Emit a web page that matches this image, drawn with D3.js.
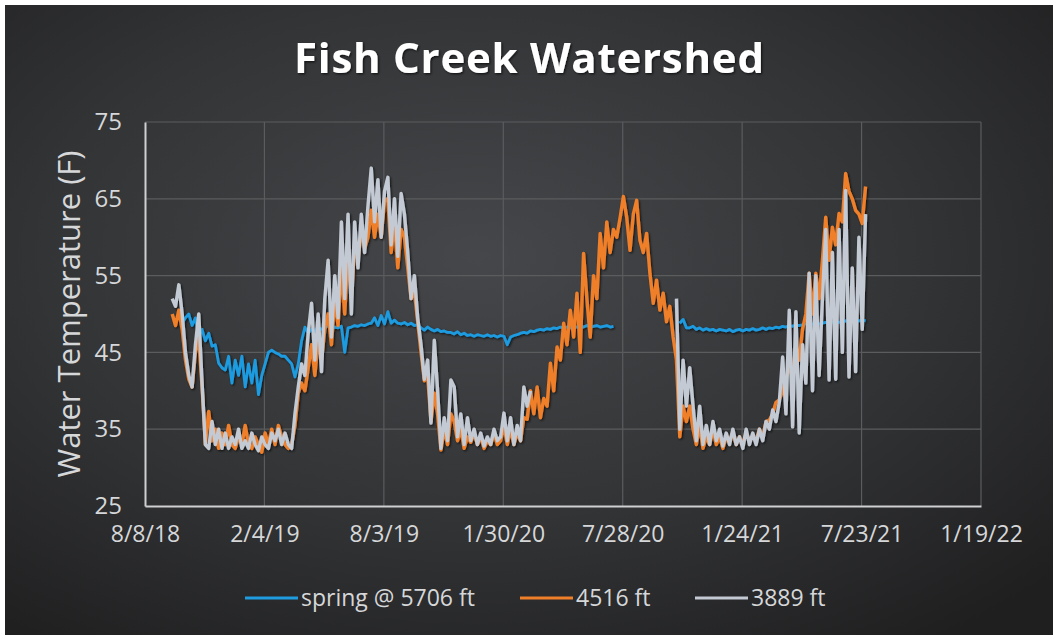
<!DOCTYPE html>
<html>
<head>
<meta charset="utf-8">
<script src="https://cdn.jsdelivr.net/npm/d3@7"></script>
<style>
  body { margin: 0; background: #fff; }
  svg { display: block; }
</style>
</head>
<body>
<div id="chart"></div>
<script>
// Axis ticks and labels
const tickLabels = ["8/8/18", "2/4/19", "8/3/19", "1/30/20", "7/28/20", "1/24/21", "7/23/21", "1/19/22"];
const yTicks = [25, 35, 45, 55, 65, 75];
const seriesNames = ["spring @ 5706 ft", "4516 ft", "3889 ft"];
const seriesColors = ["#1f9be0", "#f07f2a", "#c3cad3"];

// Readings every 5 days, starting on this date (null = no logger data)
const startDate = "9/18/18";
const stepDays = 5;

const spring5706 = [
  null, null, null, 48.8, 49.5, 50, 48.5, 49.5, 47, 48,
  46.5, 47.5, 45.8, 46, 43.6, 43, 42.7, 44.5, 41, 44,
  42, 44.5, 40.5, 43.5, 41, 44, 39.5, 42, 43.5, 45,
  45.3, 45, 44.8, 44.5, 44.5, 44, 43.5, 41.8, 43.5, 46.5,
  48.3, 47.5, 48, 47.8, 48.3, 48, 48.2, 48.5, 48, 48.3,
  48.2, 48.4, 45, 48.2, 48.3, 48.5, 48.4, 48.6, 48.5, 48.7,
  48.8, 49.5, 48.5, 49.8, 48.7, 50.3, 48.8, 49.2, 48.8, 48.7,
  48.9, 48.6, 48.8, 48.5, 48.6, 48.2, 47.9, 48.3, 48, 47.8,
  48, 47.7, 47.8, 47.6, 47.6, 47.4, 47.7, 47.3, 47.5, 47.2,
  47.3, 47.1, 47.3, 47.2, 47.1, 47.3, 47.1, 47.2, 47, 47.2,
  47.1, 46, 47, 47.2, 47.3, 47.5, 47.6, 47.5, 47.8, 47.7,
  47.9, 48, 47.9, 48.1, 48, 48.2, 48.1, 48.3, 48.2, 48.3,
  48.2, 48.4, 48.3, 48.4, 48.3, 48.5, 48.3, 48.4, 48.5, 48.3,
  48.4, 48.5, 48.3, 48.4, null, null, null, null, null, null,
  null, null, null, null, null, null, null, null, null, null,
  null, null, null, 48.8, 49.3, 48.2, 48.2, 48.4, 48, 48.2,
  47.9, 48.1, 47.9, 48, 47.8, 48, 47.9, 47.8, 48, 47.7,
  47.9, 48, 47.8, 48, 47.9, 48.1, 47.9, 48, 48.2, 48,
  48.2, 48.1, 48.3, 48.2, 48.4, 48.3, 48.5, 48.4, 48.6, 48.5,
  48.6, 48.7, 48.6, 48.7, 48.8, 48.7, 48.8, 48.9, 48.8, 48.9,
  49, 48.9, 49, 49.1, 49, 49.1, 49, 49.1, 49.2, 49.1
];

const site4516 = [
  50, 48.5, 50.5, 48, 44, 41.5, 40.5, 45, 47, 40.5,
  33, 37.3, 33.5, 35, 32.5, 34.5, 33, 35.5, 33, 32.5,
  34, 33, 35.5, 33, 32.5, 34, 33, 32, 34.5, 33,
  35, 33, 35.5, 34, 33, 32.5, 33, 35.5, 39.7, 41,
  40, 43, 46, 42, 46.6, 44, 48, 50, 46, 52,
  48.5, 56, 50, 58, 52, 59, 57, 61, 58.5, 60,
  63.5, 60, 63, 60, 64.8, 65, 58, 62, 56, 61,
  60, 56, 52, 53, 49, 45, 41.3, 42, 36, 39.7,
  37, 32.3, 35, 33, 37, 36, 33.5, 35, 32.5, 34,
  33.3, 34.5, 33, 34, 32.5, 33.5, 33, 34.5, 33, 33.5,
  35.5, 33, 35, 33, 34.5, 33.5, 36.5, 36.3, 40, 37,
  40.5, 36.5, 39, 38, 43.6, 40, 45.7, 44, 48.8, 46,
  50.5, 47, 52.7, 45, 57.9, 52, 47, 55, 52, 60.5,
  56, 62, 58, 61, 60, 62.5, 65.3, 62.6, 58.3, 63,
  64.8, 59.6, 58, 60.5, 55.3, 51.4, 54.4, 50.5, 52.7, 49,
  51, 47, 44, 34, 38, 36, 38, 35, 33, 35.5,
  32.5, 34, 33, 35, 33, 34, 32.5, 34, 33.5, 34.5,
  33, 34, 33, 34.5, 33.5, 34, 33.5, 35, 34, 36,
  36.2, 37, 38.5, 38.8, 40, 41.5, 43, 42, 46, 44,
  48, 50, 55.3, 50, 55.3, 52, 57, 62.6, 57, 61.3,
  59, 63.1, 62, 68.3, 66, 65, 63.5, 63, 61.8, 66.6
];

const site3889 = [
  52, 51, 53.8, 50, 45, 42, 40.5, 46, 50, 41,
  33, 32.5, 36, 33, 35, 32.5, 34.5, 32.5, 34, 33,
  35, 32.5, 33.5, 32.5, 34.5, 33, 32.2, 34, 33, 32.5,
  34.5, 33.5, 35, 33, 34.5, 33, 32.5, 37, 40.5, 43.5,
  42, 47.5, 51.4, 44, 50, 42.5, 52, 57, 47, 55,
  49.5, 62, 52, 63, 50, 62, 56, 63, 58, 64,
  69, 62, 67.5, 60, 66, 67.8, 59, 65, 57.5, 65.7,
  63, 58, 52, 55, 49.5, 46, 41.5, 44, 35.8, 46.6,
  40, 32.5, 36.5, 33.5, 41.4, 40.5, 34, 37, 33, 36.5,
  33.5, 35, 33, 34.5, 32.8, 34, 33, 35, 33.5, 34,
  37.1, 33.5, 36.5, 33, 35.5, 33.5, 40.5, 38, 40, null,
  null, null, null, null, null, null, null, null, null, null,
  null, null, null, null, null, null, null, null, null, null,
  null, null, null, null, null, null, null, null, null, null,
  null, null, null, null, null, null, null, null, null, null,
  null, null, 52, 35, 44, 38, 43, 38, 33.5, 38,
  33, 35.5, 33, 36, 33.5, 35, 32.8, 34.5, 33, 35,
  33, 34, 32.5, 35, 33, 34.5, 33, 35, 33.5, 36,
  35, 37.5, 36, 38.5, 44.4, 37, 50.5, 35.3, 50.3, 34.5,
  46, 41, 55.3, 40, 55, 42, 52, 61, 41.4, 58,
  41.5, 61, 45, 66.1, 41.8, 56, 42.5, 60, 48, 63
];

const parseDate = d3.timeParse("%m/%d/%y");
const formatDate = d3.timeFormat("%-m/%-d/%y");
const start = parseDate(startDate);
const dates = site3889.map((_, i) => d3.timeDay.offset(start, i * stepDays));
const series = [spring5706, site4516, site3889].map((vals, k) => ({
  name: seriesNames[k],
  color: seriesColors[k],
  points: vals.map((v, i) => ({ date: dates[i], value: v }))
}));

// Dimensions
const W = 1058, H = 639;
const margin = { top: 122, right: 77, bottom: 133, left: 145 };
const width = W - margin.left - margin.right;
const height = H - margin.top - margin.bottom;

const svg = d3.select("#chart")
  .append("svg")
  .attr("width", W)
  .attr("height", H);

// Background with soft radial shading
const defs = svg.append("defs");
const grad = defs.append("radialGradient")
  .attr("id", "bg")
  .attr("cx", "45%").attr("cy", "40%").attr("r", "75%");
grad.append("stop").attr("offset", "0%").attr("stop-color", "#45474a");
grad.append("stop").attr("offset", "55%").attr("stop-color", "#333436");
grad.append("stop").attr("offset", "100%").attr("stop-color", "#1f1f20");

const shadow = defs.append("filter").attr("id", "shadow")
  .attr("x", "-5%").attr("y", "-5%").attr("width", "110%").attr("height", "110%");
shadow.append("feDropShadow")
  .attr("dx", 1.2).attr("dy", 1.2).attr("stdDeviation", 0.8)
  .attr("flood-color", "#000").attr("flood-opacity", 0.7);

svg.append("rect")
  .attr("x", 5).attr("y", 5)
  .attr("width", W - 10).attr("height", H - 9)
  .attr("fill", "url(#bg)");

// Title
svg.append("text")
  .attr("x", 529)
  .attr("y", 73)
  .attr("text-anchor", "middle")
  .attr("textLength", 470)
  .attr("lengthAdjust", "spacing")
  .attr("filter", "url(#shadow)")
  .style("font-family", "'Open Sans', sans-serif")
  .style("font-weight", 700)
  .style("font-size", "42px")
  .attr("fill", "#ffffff")
  .text("Fish Creek Watershed");

const g = svg.append("g")
  .attr("transform", `translate(${margin.left},${margin.top})`);

// Scales
const x = d3.scaleTime()
  .domain([parseDate(tickLabels[0]), parseDate(tickLabels[tickLabels.length - 1])])
  .range([0, width]);

const y = d3.scaleLinear()
  .domain([yTicks[0], yTicks[yTicks.length - 1]])
  .range([height, 0]);

const tickDates = tickLabels.map(parseDate);

// Gridlines
g.append("g")
  .selectAll("line")
  .data(yTicks.slice(1))
  .join("line")
  .attr("x1", 0).attr("x2", width)
  .attr("y1", d => y(d)).attr("y2", d => y(d))
  .attr("stroke", "#5a5c5e")
  .attr("stroke-width", 1.2);

g.append("g")
  .selectAll("line")
  .data(tickDates.slice(1))
  .join("line")
  .attr("x1", d => x(d)).attr("x2", d => x(d))
  .attr("y1", 0).attr("y2", height)
  .attr("stroke", "#5a5c5e")
  .attr("stroke-width", 1.2);

// Axes
const tickFont = "'Open Sans', sans-serif";

const yAxis = g.append("g")
  .call(d3.axisLeft(y).tickValues(yTicks).tickSize(0).tickPadding(23));
yAxis.select(".domain").attr("stroke", "#cfd0d2").attr("stroke-width", 2);
yAxis.selectAll("text")
  .style("font-family", tickFont)
  .style("font-size", "24px")
  .attr("fill", "#d6d7d9");

const xAxis = g.append("g")
  .attr("transform", `translate(0,${height})`)
  .call(d3.axisBottom(x).tickValues(tickDates).tickFormat(formatDate).tickSize(0).tickPadding(20));
xAxis.select(".domain").attr("stroke", "#cfd0d2").attr("stroke-width", 2);
xAxis.selectAll("text")
  .style("font-family", tickFont)
  .style("font-size", "23px")
  .attr("fill", "#d6d7d9");

// Y axis title
svg.append("text")
  .attr("transform", `translate(80,${margin.top + height / 2}) rotate(-90)`)
  .attr("text-anchor", "middle")
  .style("font-family", tickFont)
  .style("font-size", "31px")
  .attr("fill", "#d6d7d9")
  .text("Water Temperature (F)");

// Lines
const line = d3.line()
  .defined(d => d.value !== null)
  .x(d => x(d.date))
  .y(d => y(d.value));

g.append("g")
  .attr("filter", "url(#shadow)")
  .selectAll("path")
  .data(series)
  .join("path")
  .attr("fill", "none")
  .attr("stroke", d => d.color)
  .attr("stroke-width", (d, i) => i === 0 ? 2.8 : 3.4)
  .attr("stroke-linejoin", "round")
  .attr("d", d => line(d.points));

// Legend
const legendX = [245, 520, 695];
const legend = svg.append("g").attr("transform", "translate(0,598)");
series.forEach((s, i) => {
  legend.append("line")
    .attr("x1", legendX[i]).attr("x2", legendX[i] + 53)
    .attr("y1", 0).attr("y2", 0)
    .attr("stroke", s.color)
    .attr("stroke-width", 3);
  legend.append("text")
    .attr("x", legendX[i] + 56)
    .attr("y", 8)
    .style("font-family", tickFont)
    .style("font-size", "23px")
    .attr("fill", "#d6d7d9")
    .text(s.name);
});
</script>
</body>
</html>
